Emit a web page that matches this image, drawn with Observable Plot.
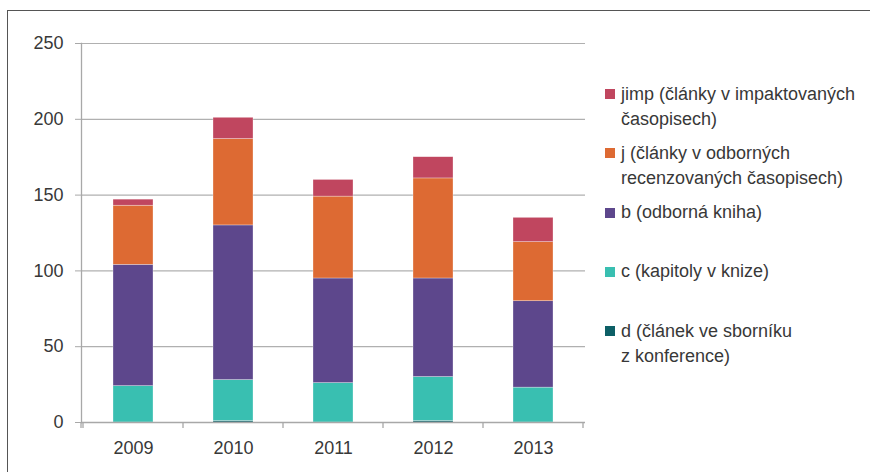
<!DOCTYPE html>
<html>
<head>
<meta charset="utf-8">
<script src="https://cdn.jsdelivr.net/npm/d3@7"></script>
<script src="https://cdn.jsdelivr.net/npm/@observablehq/plot@0.6"></script>
<style>
  html, body { margin: 0; padding: 0; background: #fff; }
  #wrap { position: relative; width: 870px; height: 472px; overflow: hidden; font-family: "Liberation Sans", Arial, sans-serif; }
  #frame { position: absolute; left: 7px; top: 10px; width: 880px; height: 480px; border-left: 1.5px solid #555; border-top: 1.5px solid #555; box-sizing: border-box; }
  #chart { position: absolute; left: 0; top: 0; }
  #legend { position: absolute; left: 605px; top: 69px; }
  .item { position: relative; height: 59.3px; }
  .sw { position: absolute; left: 0; top: 20px; width: 10px; height: 10px; }
  .lab { position: absolute; left: 16px; top: 12.5px; font-size: 18px; line-height: 25px; color: #383838; white-space: nowrap; }
</style>
</head>
<body>
<div id="wrap">
  <div id="frame"></div>
  <div id="chart"></div>
  <div id="legend"></div>
</div>
<script>
const years = ["2009", "2010", "2011", "2012", "2013"];
const seriesKeys = ["d", "c", "b", "j", "jimp"]; // bottom to top
const seriesLabels = {
  jimp: ["jimp (články v impaktovaných", "časopisech)"],
  j: ["j (články v odborných", "recenzovaných časopisech)"],
  b: ["b (odborná kniha)"],
  c: ["c (kapitoly v knize)"],
  d: ["d (článek ve sborníku", "z konference)"]
};
const seriesColors = ["#0D5F66", "#39BFB1", "#5D478C", "#DD6A33", "#C0465F"];
const dValues = [0, 1, 0, 1, 0];
const cValues = [24, 27, 26, 29, 23];
const bValues = [80, 102, 69, 65, 57];
const jValues = [39, 57, 54, 66, 39];
const jimpValues = [4, 14, 11, 14, 16];
const yTicks = [0, 50, 100, 150, 200, 250];
const legendOrder = ["jimp", "j", "b", "c", "d"];

const valuesBySeries = { d: dValues, c: cValues, b: bValues, j: jValues, jimp: jimpValues };
const data = [];
seriesKeys.forEach(s => years.forEach((y, i) => data.push({ year: y, series: s, value: valuesBySeries[s][i] })));

const plot = Plot.plot({
  width: 590,
  height: 472,
  marginLeft: 81,
  marginRight: 5,
  marginTop: 43,
  marginBottom: 50,
  style: { fontFamily: "'Liberation Sans', Arial, sans-serif", fontSize: "18px", color: "#383838", background: "transparent" },
  x: { domain: years, paddingInner: 0.6, paddingOuter: 0.3, label: null },
  y: { domain: [0, 250], label: null },
  color: { domain: seriesKeys, range: seriesColors },
  marks: [
    Plot.gridY(yTicks, { stroke: "#b0b0b0", strokeOpacity: 1, strokeWidth: 1.2 }),
    Plot.barY(data, Plot.stackY({ x: "year", y: "value", fill: "series", stroke: "white", strokeWidth: 0.6, strokeOpacity: 0.5 })),
    Plot.ruleY([0], { stroke: "#a8a8a8", strokeWidth: 1.3 }),
    Plot.frame({ anchor: "left", stroke: "#a8a8a8", strokeWidth: 1.3 }),
    Plot.axisY(yTicks, { tickSize: 6, tickPadding: 12, stroke: "#a8a8a8", fill: "#383838", fontSize: 18 }),
    Plot.axisX({ tickSize: 0, tickPadding: 19, fill: "#383838", fontSize: 18 })
  ]
});
document.getElementById("chart").appendChild(plot);

// category boundary ticks on the x axis, derived from the band scale
const xs = plot.scale("x");
const ys = plot.scale("y");
const half = (xs.step - xs.bandwidth) / 2;
const bounds = years.map(y => xs.apply(y) - half);
bounds.push(xs.apply(years[years.length - 1]) + xs.bandwidth + half);
const y0 = ys.apply(0);
d3.select(plot).append("g")
  .selectAll("line").data(bounds).join("line")
  .attr("x1", d => d).attr("x2", d => d)
  .attr("y1", y0).attr("y2", y0 + 6)
  .attr("stroke", "#a8a8a8").attr("stroke-width", 1.3);
// extend the y axis line a bit below zero
d3.select(plot).append("line")
  .attr("x1", xs.range[0]).attr("x2", xs.range[0])
  .attr("y1", y0).attr("y2", y0 + 6)
  .attr("stroke", "#a8a8a8").attr("stroke-width", 1.3);

// legend
const legend = d3.select("#legend");
legendOrder.forEach(k => {
  const item = legend.append("div").attr("class", "item");
  item.append("div").attr("class", "sw").style("background", seriesColors[seriesKeys.indexOf(k)]);
  item.append("div").attr("class", "lab").html(seriesLabels[k].join("<br>"));
});
</script>
</body>
</html>
